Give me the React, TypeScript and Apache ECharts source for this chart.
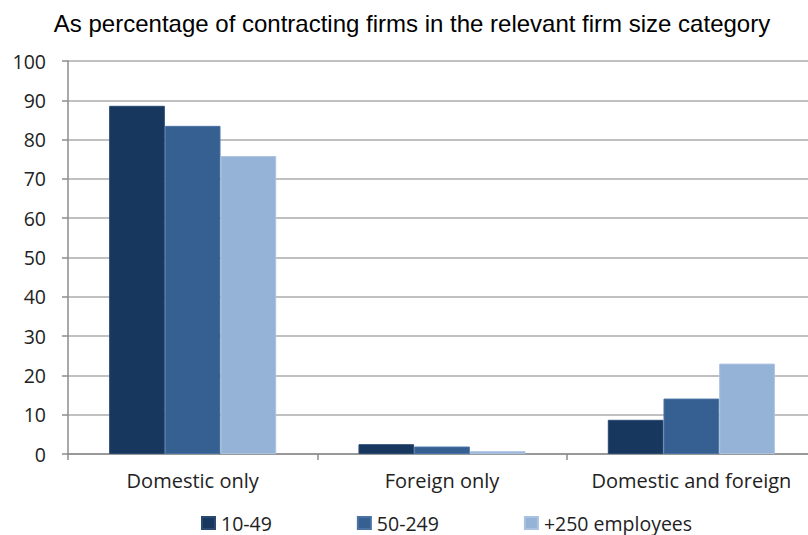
import React, { useEffect, useRef } from "react";
import * as echarts from "echarts";

const categories = ["Domestic only", "Foreign only", "Domestic and foreign"];
const seriesNames = ["10-49", "50-249", "+250 employees"];
const small = [88.6, 2.5, 8.7];
const medium = [83.5, 1.9, 14.1];
const large = [75.8, 0.7, 23.0];
const colors = ["#17375E", "#366092", "#95B3D7"];
const borders = ["#2a4a72", "#4a73a4", "#aac2e0"];
const yTicks = [0, 10, 20, 30, 40, 50, 60, 70, 80, 90, 100];

export default function App() {
  const ref = useRef<HTMLDivElement>(null);
  useEffect(() => {
    document.body.style.margin = "0";
    document.body.style.overflow = "hidden";
    const chart = echarts.init(ref.current!, null, { renderer: "svg" });
    const values = [small, medium, large];
    chart.setOption({
      animation: false,
      backgroundColor: "#ffffff",
      title: {
        text: "As percentage of contracting firms in the relevant firm size category",
        left: 412,
        textAlign: "center",
        top: 11,
        padding: 0,
        textStyle: {
          fontFamily: "Liberation Sans",
          fontSize: 24,
          fontWeight: "normal",
          color: "#000000",
        },
      },
      legend: {
        left: 201,
        top: 513,
        padding: 0,
        itemWidth: 13,
        itemHeight: 12,
        itemGap: 85,
        icon: "rect",
        textStyle: {
          fontFamily: "Open Sans",
          fontSize: 19.5,
          lineHeight: 20,
          color: "#222222",
          padding: [0, 0, 0, 1],
        },
        data: seriesNames,
      },
      grid: { left: 68, top: 61, width: 748, height: 393, containLabel: false },
      xAxis: {
        type: "category",
        data: categories,
        axisLine: { lineStyle: { color: "#8c8c8c", width: 1.5 } },
        axisTick: { show: true, alignWithLabel: false, length: 6, lineStyle: { color: "#8c8c8c", width: 1.5 } },
        axisLabel: { interval: 0, fontFamily: "Open Sans", fontSize: 20, color: "#222222", margin: 16 },
      },
      yAxis: {
        type: "value",
        min: 0,
        max: 100,
        interval: 10,
        axisLine: { show: true, lineStyle: { color: "#8c8c8c", width: 1.5 } },
        axisTick: { show: true, length: 6, lineStyle: { color: "#8c8c8c", width: 1.5 } },
        axisLabel: {
          fontFamily: "Open Sans",
          fontSize: 19.5,
          color: "#222222",
          margin: 22,
          formatter: (v: number) => (yTicks.includes(v) ? String(v) : ""),
        },
        splitLine: { lineStyle: { color: "#ababab", width: 1.5 } },
      },
      series: seriesNames.map((name, i) => ({
        name,
        type: "bar",
        data: values[i],
        barGap: "0%",
        barCategoryGap: "33%",
        itemStyle: { color: colors[i], borderColor: borders[i], borderWidth: 1 },
      })),
    });
    return () => chart.dispose();
  }, []);
  return <div ref={ref} style={{ width: 817, height: 535 }} />;
}
